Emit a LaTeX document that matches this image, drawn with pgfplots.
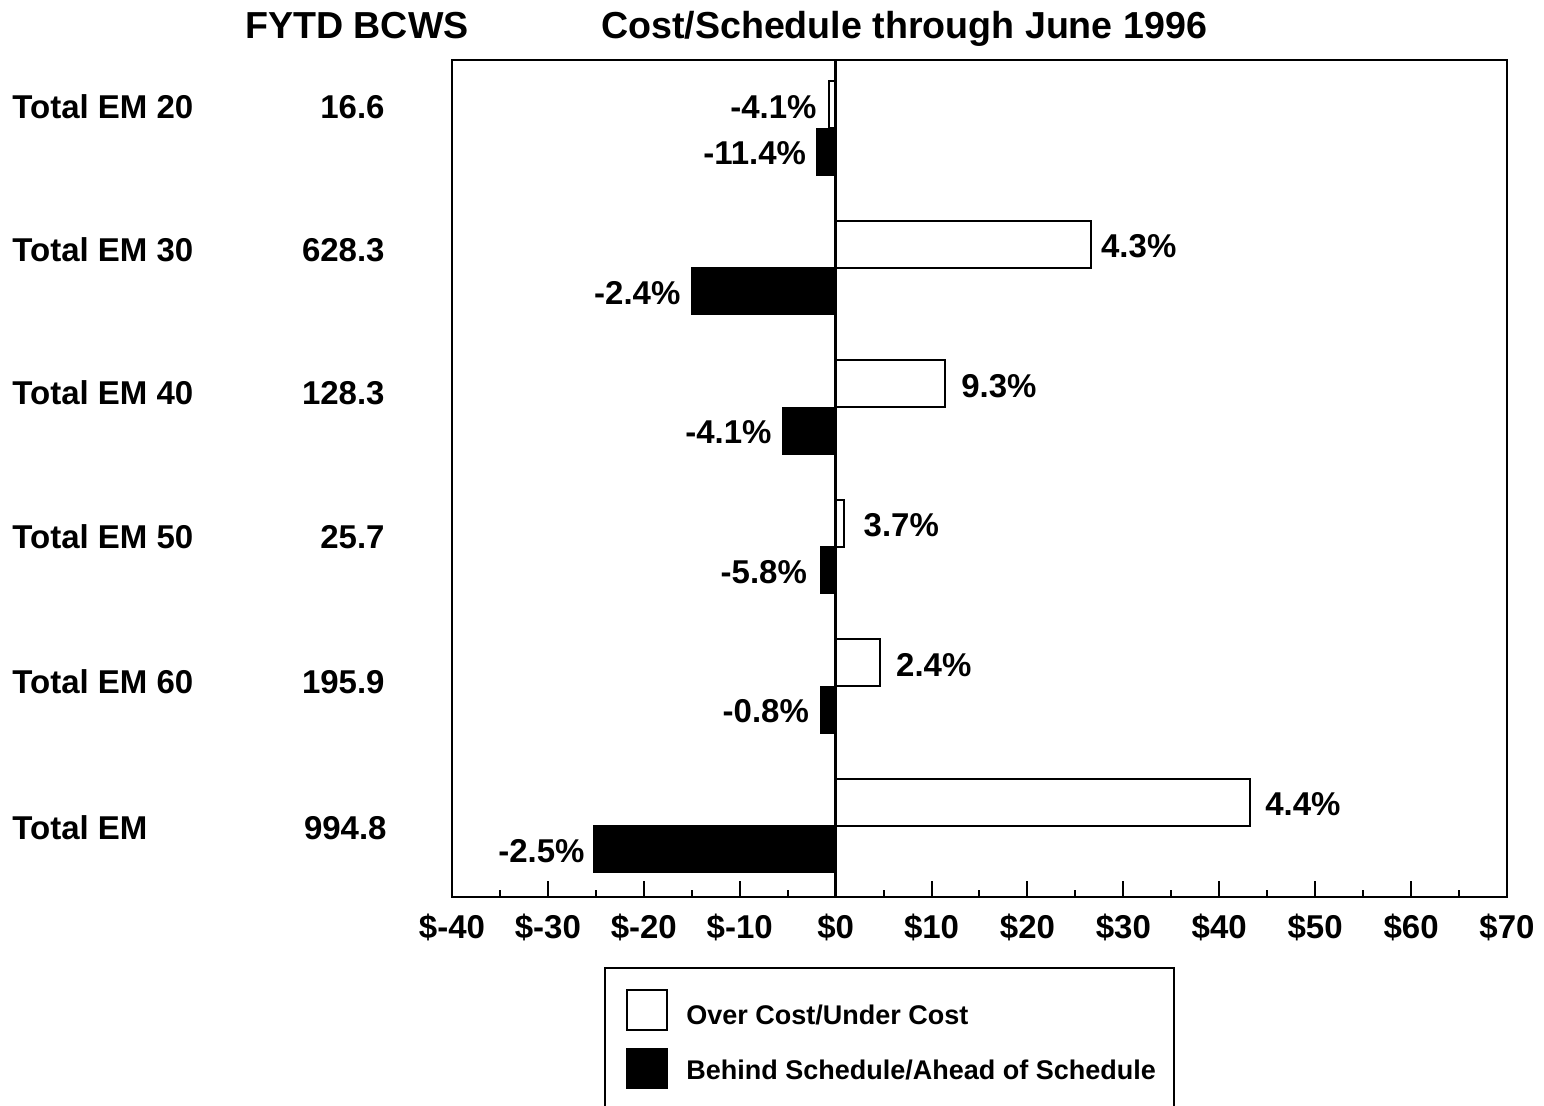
\documentclass[border=0pt]{standalone}
\usepackage{fontspec}
\setmainfont{Liberation Sans}
\usepackage{pgfplots}
\pgfplotsset{compat=1.18}
\begin{document}
\begin{tikzpicture}[x=1pt,y=1pt, font=\fontsize{16.5}{19.5}\selectfont\bfseries]
\useasboundingbox (0,0) rectangle (772,-553);
\begin{axis}[at={(226pt,-448.5pt)}, anchor=south west,
  width=527.5pt, height=418.5pt, scale only axis,
  xbar, xmin=-40, xmax=70, ymin=-0.51, ymax=5.49,
  bar width=23.5pt,
  xtick={-40,-30,...,70},
  xticklabels={\$-40,\$-30,\$-20,\$-10,\$0,\$10,\$20,\$30,\$40,\$50,\$60,\$70},
  minor xtick={-35,-25,...,65},
  xtick pos=bottom, tick align=inside,
  major tick length=8pt, minor tick length=3.5pt,
  ytick=\empty,
  axis line style={line width=1.25pt},
  every tick/.style={black, line width=1pt},
  xticklabel style={anchor=base, inner sep=0pt, yshift=-20.75pt},
  clip=false]
\addplot[draw=black, fill=white, line width=1pt, bar shift=11.75pt] coordinates {
  (-0.7,5) (26.6,4) (11.4,3) (0.9,2) (4.6,1) (43.2,0)
};
\addplot[draw=black, fill=black, line width=0.5pt, bar shift=-11.75pt] coordinates {
  (-2.0,5) (-15.0,4) (-5.5,3) (-1.6,2) (-1.6,1) (-25.2,0)
};
\draw[line width=1.25pt] (axis cs:0,-0.51) -- (axis cs:0,5.49);
% value labels (cost)
\begin{scope}[every node/.style={inner sep=0pt, yshift=10.75pt}]
\node[anchor=east, xshift=-6pt]   at (axis cs:-0.7,5) {-4.1\%};
\node[anchor=west, xshift=5pt]    at (axis cs:26.6,4) {4.3\%};
\node[anchor=west, xshift=8pt]    at (axis cs:11.4,3) {9.3\%};
\node[anchor=west, xshift=9.5pt]  at (axis cs:0.9,2)  {3.7\%};
\node[anchor=west, xshift=8pt]    at (axis cs:4.6,1)  {2.4\%};
\node[anchor=west, xshift=7.5pt]  at (axis cs:43.2,0) {4.4\%};
\end{scope}
% value labels (schedule)
\begin{scope}[every node/.style={inner sep=0pt, yshift=-12.5pt}]
\node[anchor=east, xshift=-5pt]   at (axis cs:-2.0,5)  {-11.4\%};
\node[anchor=east, xshift=-5.5pt] at (axis cs:-15.0,4) {-2.4\%};
\node[anchor=east, xshift=-5.5pt] at (axis cs:-5.5,3)  {-4.1\%};
\node[anchor=east, xshift=-6.5pt] at (axis cs:-1.6,2)  {-5.8\%};
\node[anchor=east, xshift=-5.5pt] at (axis cs:-1.6,1)  {-0.8\%};
\node[anchor=east, xshift=-4.5pt] at (axis cs:-25.2,0) {-2.5\%};
\end{scope}
\end{axis}
% left labels
\node[anchor=west, inner sep=0] at (6,-53.5) {Total EM 20};
\node[anchor=west, inner sep=0] at (6,-125) {Total EM 30};
\node[anchor=west, inner sep=0] at (6,-196.5) {Total EM 40};
\node[anchor=west, inner sep=0] at (6,-268.5) {Total EM 50};
\node[anchor=west, inner sep=0] at (6,-341) {Total EM 60};
\node[anchor=west, inner sep=0] at (6,-414) {Total EM};
\node[anchor=east, inner sep=0] at (192.5,-53.5) {16.6};
\node[anchor=east, inner sep=0] at (192.5,-125) {628.3};
\node[anchor=east, inner sep=0] at (192.5,-196.5) {128.3};
\node[anchor=east, inner sep=0] at (192.5,-268.5) {25.7};
\node[anchor=east, inner sep=0] at (192.5,-341) {195.9};
\node[anchor=east, inner sep=0] at (193.5,-414) {994.8};
% headers
\node[anchor=base, inner sep=0, font=\fontsize{18.8}{22}\selectfont\bfseries] at (178.5,-19.5) {FYTD BCWS};
\node[anchor=base, inner sep=0, font=\fontsize{18.8}{22}\selectfont\bfseries] at (452,-19.5) {Cost/Schedule through June 1996};
% legend
\draw[line width=1pt] (302.5,-556) -- (302.5,-484) -- (587,-484) -- (587,-556);
\draw[line width=1pt, fill=white] (313.5,-495) rectangle (333.5,-515);
\draw[line width=1pt, fill=black] (313.5,-524.5) rectangle (333.5,-544);
\node[anchor=west, inner sep=0, font=\fontsize{13.5}{16}\selectfont\bfseries] at (343,-507.5) {Over Cost/Under Cost};
\node[anchor=west, inner sep=0, font=\fontsize{13.5}{16}\selectfont\bfseries] at (343,-535) {Behind Schedule/Ahead of Schedule};
\end{tikzpicture}
\end{document}
